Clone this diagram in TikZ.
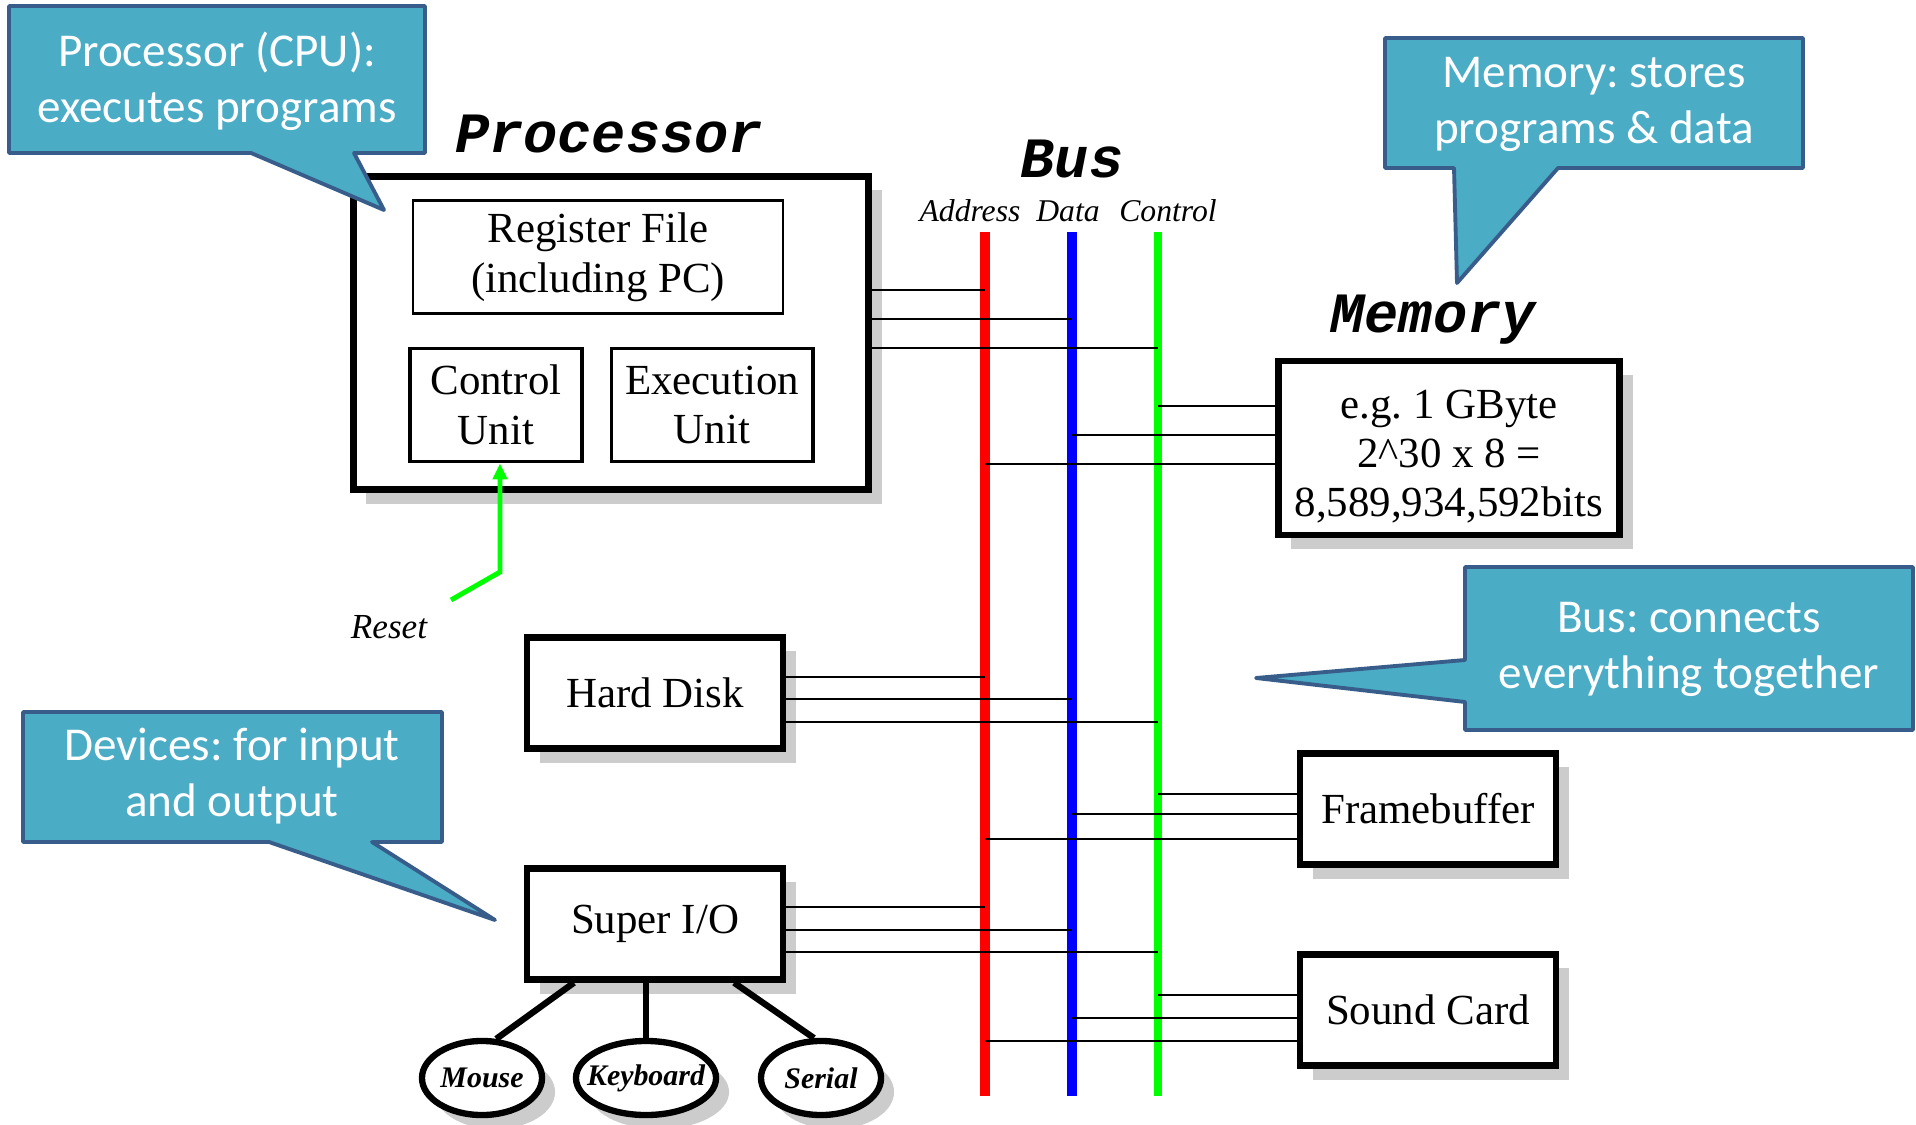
\documentclass[tikz,border=0pt]{standalone}
\usepackage{fontspec}
\setmainfont{Liberation Serif}
\setmonofont{Liberation Mono}
\newfontfamily\notefont{Carlito}
\usepackage{graphicx}
\usepackage{xcolor}
\usepackage{tikz}
\usetikzlibrary{shapes.geometric,shadows,arrows.meta,calc}
\frenchspacing

\definecolor{notefill}{HTML}{4BACC6}
\definecolor{noteline}{HTML}{385D8A}
\definecolor{shadowgray}{HTML}{CCCCCC}
\definecolor{busgreen}{HTML}{00FF00}

\tikzset{
  shade box/.style={drop shadow={shadow xshift=0.13cm, shadow yshift=-0.14cm, fill=shadowgray, opacity=1}},
  unit/.style={draw, fill=white, line width=1.8pt, minimum width=2.56cm, minimum height=1.11cm,
    align=center, font=\fontsize{12.2}{14}\selectfont, shade box},
  part/.style={draw, line width=1.1pt, minimum height=1.13cm, align=center,
    font=\fontsize{12.2}{14.2}\selectfont},
  title/.style={inner sep=0pt, font=\fontsize{16.2}{18}\selectfont\ttfamily\bfseries\itshape},
  lane/.style={inner sep=0pt, font=\fontsize{9}{10}\selectfont\itshape},
  port/.style={ellipse, draw, fill=white, line width=1.8pt, minimum width=1.20cm, minimum height=0.74cm,
    inner xsep=-3pt, inner ysep=0pt, font=\fontsize{8.5}{10}\selectfont\bfseries\itshape, shade box},
  wire/.style={line width=1.8pt},
  tap/.style={line width=0.5pt},
  bus/.style={line width=#1, line cap=butt},
  note/.style={fill=notefill, draw=noteline, line width=1.1pt, line join=round},
  notetext/.style={text=white, align=center, font=\notefont\fontsize{13.4}{15.9}\selectfont}
}

\begin{document}
\begin{tikzpicture}[x=0.01cm, y=-0.01cm]
    \useasboundingbox (0,0) rectangle (1916,1125);

    % Processor
    \node[unit, minimum width=5.15cm, minimum height=3.13cm, line width=2pt] (proc) at (611,333) {};
    \node[title] (proctitle) at (609,134) {Processor};
    \node[part, line width=0.6pt, minimum width=3.70cm] (reg) at (598,257) {Register File\\(including PC)};
    \node[part, minimum width=1.72cm] (cu) at (496,405) {Control\\Unit};
    \node[part, minimum width=2.01cm] (eu) at (712,405) {Execution\\Unit};

    % Memory and devices
    \node[title] (memtitle) at (1433,320) {Memory};
    \node[unit, minimum width=3.41cm, minimum height=1.70cm] (mem) at (1449,448)
        {\rule{0pt}{13pt}e.g. 1 GByte\\2\textasciicircum30 x 8 =\\8,589,934,592bits};
    \node[unit] (hd) at (655,693) {Hard Disk};
    \node[unit] (sio) at (655,924) {Super I/O};
    \node[unit] (fb) at (1428,809) {Framebuffer};
    \node[unit] (sc) at (1428,1010) {Sound Card};

    \node[port] (mouse) at (482,1078) {Mouse};
    \node[port, minimum width=1.40cm] (kbd) at (646,1078) {Keyboard};
    \node[port] (serial) at (821,1078) {Serial};
    \draw[wire] ([xshift=-0.81cm]sio.south) -- (mouse.70);
    \draw[wire] (kbd.north |- sio.south) -- (kbd.north);
    \draw[wire] ([xshift=0.79cm]sio.south) -- (serial.100);

    % Bus lines
    \node[title] (bustitle) at (1072,159) {Bus};
    \foreach \n/\x/\c/\w in {addr/985/red/2.8pt, data/1072/blue/2.8pt, ctrl/1158/busgreen/2.2pt} {
        \coordinate (\n) at (\x,232);
        \coordinate (\n end) at (\x,1096);
        \draw[bus=\w, \c] (\n) -- (\n end);
    }
    \node[lane] (addrlabel) at (970,211) {Address};
    \node[lane] (datalabel) at (1068,211) {Data};
    \node[lane] (ctrllabel) at (1168,211) {Control};

    % taps onto the bus
    \foreach \y/\b in {290/addr,319/data,348/ctrl} \draw[tap] (proc.east |- 0,\y) -- (\b |- 0,\y);
    \foreach \y/\b in {406/ctrl,435/data,464/addr} \draw[tap] (mem.west |- 0,\y) -- (\b |- 0,\y);
    \foreach \y/\b in {677/addr,699/data,722/ctrl} \draw[tap] (hd.east |- 0,\y) -- (\b |- 0,\y);
    \foreach \y/\b in {907/addr,930/data,952/ctrl} \draw[tap] (sio.east |- 0,\y) -- (\b |- 0,\y);
    \foreach \y/\b in {794/ctrl,814/data,839/addr} \draw[tap] (fb.west |- 0,\y) -- (\b |- 0,\y);
    \foreach \y/\b in {995/ctrl,1018/data,1041/addr} \draw[tap] (sc.west |- 0,\y) -- (\b |- 0,\y);

    % Reset
    \coordinate (rst) at (451,600);
    \draw[busgreen, line width=1.4pt, -{Triangle[length=4.5pt,width=4pt]}] (rst) -- (500,572) -- (500,572 |- cu.south);
    \node[inner sep=0pt, font=\fontsize{10}{12}\selectfont\itshape] (rstlabel) at (389,627) {Reset};

    % callouts
    \draw[note] (9,6) -- (425,6) -- (425,153) -- (354,153) -- (384,210) -- (251,153) -- (9,153) -- cycle;
    \node[notetext] (cpunote) at (217,81) {Processor (CPU):\\executes programs};
    \draw[note] (1385,38) -- (1803,38) -- (1803,168) -- (1558,168) -- (1457,283) -- (1454,168) -- (1385,168) -- cycle;
    \node[notetext] (memnote) at (1594,104) {Memory: stores\\programs \& data};
    \draw[note] (1465,567) -- (1913,567) -- (1913,730) -- (1465,730) -- (1465,702) -- (1256,678) -- (1465,660) -- cycle;
    \node[notetext] (busnote) at (1689,649) {Bus: connects\\everything together};
    \draw[note] (23,712) -- (442,712) -- (442,842) -- (372,842) -- (495,920) -- (269,842) -- (23,842) -- cycle;
    \node[notetext] (devnote) at (232,776) {Devices: for input\\and output};
\end{tikzpicture}
\end{document}
